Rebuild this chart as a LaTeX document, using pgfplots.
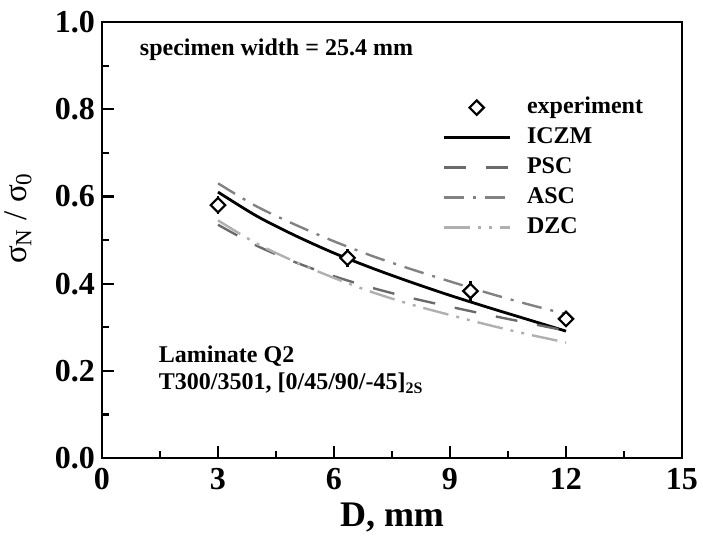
\documentclass[border=0pt]{standalone}
\usepackage{fontspec}
\setmainfont{Liberation Serif}
\usepackage{pgfplots}
\pgfplotsset{compat=1.18}
\definecolor{psccol}{HTML}{6A6A6A}
\definecolor{asccol}{HTML}{828282}
\definecolor{dzccol}{HTML}{B0B0B0}
\begin{document}
\begin{tikzpicture}
\begin{axis}[
  scale only axis,
  width=290pt, height=218pt,
  xmin=0, xmax=15, ymin=0, ymax=1,
  xtick={0,3,6,9,12,15},
  ytick={0,0.2,0.4,0.6,0.8,1.0},
  minor x tick num=1,
  minor y tick num=1,
  tick align=inside,
  xtick pos=bottom, ytick pos=left,
  major tick length=6pt, minor tick length=3.5pt,
  axis line style={line width=1.3pt},
  every tick/.style={black, line width=1.1pt},
  /pgf/number format/assume math mode=true,
  yticklabel style={/pgf/number format/.cd, fixed, fixed zerofill, precision=1},
  ticklabel style={font=\bfseries\fontsize{16}{19}\selectfont},
  xticklabel style={anchor=center, yshift=-10.5pt},
  xlabel={D, mm},
  ylabel={σ\textsubscript{N} / σ\textsubscript{0}},
  every axis x label/.style={at={(axis description cs:0.5,0)}, anchor=base, yshift=-34pt, font=\bfseries\fontsize{18}{21}\selectfont},
  every axis y label/.style={at={(axis description cs:0,0.55)}, xshift=-42pt, rotate=90, anchor=center, font=\fontsize{16.5}{20}\selectfont},
  legend cell align=left,
  legend style={at={(rel axis cs:0.586,0.832)}, anchor=north west, draw=none, fill=none,
    inner sep=0pt, row sep=3pt, column sep=8pt,
    font=\bfseries\fontsize{12}{14}\selectfont,
    nodes={inner sep=0pt, text height=9pt, text depth=3pt}},
  legend image code/.code={\draw[#1] (0pt,0pt) -- (33pt,0pt);},
]
\addplot[only marks, mark=square*, mark size=2.55pt, mark options={rotate=45, fill=white, draw=black, line width=1.1pt},
  legend image code/.code={\draw[mark repeat=2, mark phase=2, ##1] plot coordinates {(0pt,0pt) (16.5pt,0pt) (33pt,0pt)};},
  error bars/.cd, y dir=both, y explicit, error mark=none, error bar style={line width=1.1pt, black}]
  coordinates {
  (3,0.580) +- (0,0.020)
  (6.35,0.459) +- (0,0.020)
  (9.53,0.383) +- (0,0.024)
  (12,0.319) +- (0,0.015)
  };
\addlegendentry{experiment}
\addplot[black, line width=1.4pt, smooth] coordinates {
  (3,0.610) (4,0.555) (5,0.510) (6,0.470) (7,0.435) (8,0.403) (9,0.373) (10,0.345) (11,0.318) (12,0.291)};
\addlegendentry{ICZM}
\addplot[psccol, line width=1.2pt, smooth, dash pattern=on 11pt off 10pt] coordinates {
  (3,0.535) (4,0.487) (5,0.449) (6,0.417) (7,0.390) (8,0.367) (9,0.347) (10,0.328) (11,0.310) (12,0.292)};
\addlegendentry{PSC}
\addplot[asccol, line width=1.2pt, smooth, dash pattern=on 10pt off 4.5pt on 1.5pt off 4.5pt] coordinates {
  (3,0.630) (4,0.577) (5,0.535) (6,0.497) (7,0.463) (8,0.433) (9,0.405) (10,0.378) (11,0.353) (12,0.330)};
\addlegendentry{ASC}
\addplot[dzccol, line width=1.2pt, smooth, dash pattern=on 13pt off 4pt on 1.5pt off 4pt on 1.5pt off 4pt] coordinates {
  (3,0.545) (4,0.492) (5,0.450) (6,0.413) (7,0.380) (8,0.352) (9,0.328) (10,0.305) (11,0.284) (12,0.265)};
\addlegendentry{DZC}
\node[anchor=base west, font=\bfseries\fontsize{12}{14}\selectfont] at (axis cs:0.80,0.924) {specimen width = 25.4 mm};
\node[anchor=base west, font=\bfseries\fontsize{12}{14}\selectfont] at (axis cs:1.29,0.220) {Laminate Q2};
\node[anchor=base west, font=\bfseries\fontsize{12}{14}\selectfont] at (axis cs:1.29,0.156) {T300/3501, [0/45/90/-45]\textsubscript{2S}};
\coordinate (sw) at (rel axis cs:0,0);
\end{axis}
\pgfresetboundingbox
\path (sw) ++(-51pt,-39.5pt) rectangle ++(351.5pt,268.5pt);
\end{tikzpicture}
\end{document}
